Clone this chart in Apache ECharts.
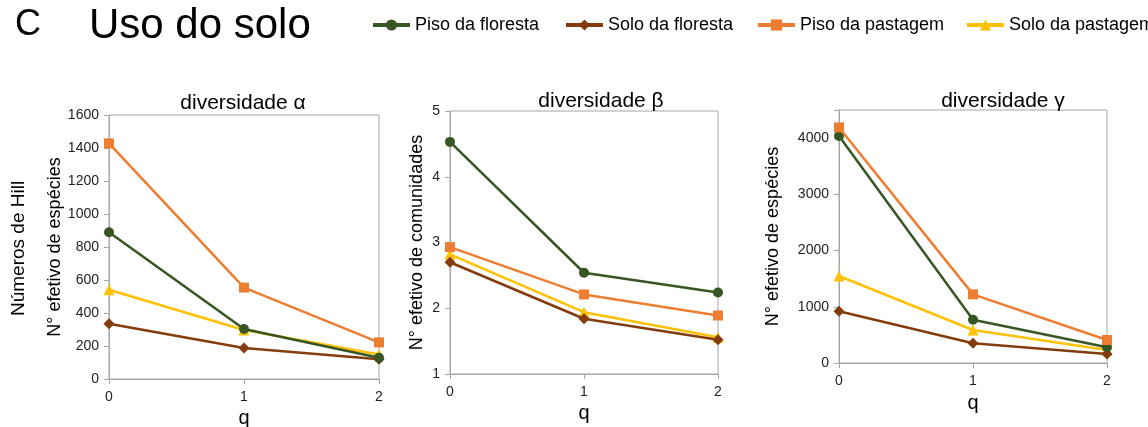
<!DOCTYPE html>
<html><head><meta charset="utf-8">
<script src="https://cdn.jsdelivr.net/npm/echarts@6/dist/echarts.min.js"></script>
<style>html,body{margin:0;padding:0;background:#fff}#c{width:1148px;height:427px}</style>
</head><body><div id="c"></div>
<script>
const qLabels = ['0', '1', '2'];
const seriesNames = ['Piso da floresta', 'Solo da floresta', 'Piso da pastagem', 'Solo da pastagem'];
const colors = ['#375623', '#843c0c', '#ed7d31', '#ffc000'];
const symbols = ['circle', 'diamond', 'rect', 'triangle'];
const panelTitles = ['diversidade α', 'diversidade β', 'diversidade γ'];

// diversidade α
const alphaPisoFloresta = [889, 303, 129];
const alphaSoloFloresta = [335, 188, 119];
const alphaPisoPastagem = [1428, 554, 222];
const alphaSoloPastagem = [541, 297, 149];
// diversidade β
const betaPisoFloresta = [4.53, 2.54, 2.24];
const betaSoloFloresta = [2.70, 1.84, 1.52];
const betaPisoPastagem = [2.93, 2.21, 1.89];
const betaSoloPastagem = [2.82, 1.94, 1.56];
// diversidade γ
const gammaPisoFloresta = [4036, 770, 279];
const gammaSoloFloresta = [919, 350, 160];
const gammaPisoPastagem = [4190, 1221, 409];
const gammaSoloPastagem = [1547, 587, 231];

const panelData = [
  [alphaPisoFloresta, alphaSoloFloresta, alphaPisoPastagem, alphaSoloPastagem],
  [betaPisoFloresta, betaSoloFloresta, betaPisoPastagem, betaSoloPastagem],
  [gammaPisoFloresta, gammaSoloFloresta, gammaPisoPastagem, gammaSoloPastagem]
];

const FONT = 'Liberation Sans, Arial, sans-serif';
const grids = [
  {left: 109, right: 769, top: 115, bottom: 48},
  {left: 450, right: 430, top: 111, bottom: 53},
  {left: 839, right: 41, top: 110, bottom: 64}
];
const yCfg = [
  {min: 0, max: 1600, interval: 200, name: 'N° efetivo de espécies', nameGap: 43},
  {min: 1, max: 5, interval: 1, name: 'N° efetivo de comunidades', nameGap: 24},
  {min: 0, max: 4500, interval: 1000, name: 'N° efetivo de espécies', nameGap: 57}
];
const xNameGap = [29, 19, 30];
const titlePos = [{x: 238, y: 88}, {x: 596, y: 86}, {x: 998, y: 86}];

const axisColor = '#a6a6a6';
const option = {
  animation: false,
  backgroundColor: '#fff',
  title: [
    {text: 'C', left: 10, top: 2, textStyle: {fontFamily: FONT, fontSize: 36, fontWeight: 'normal', color: '#000'}},
    {text: 'Uso do solo', left: 84, top: 0, textStyle: {fontFamily: FONT, fontSize: 42, fontWeight: 'normal', color: '#000'}}
  ].concat(panelTitles.map((t, i) => ({
    text: t, left: titlePos[i].x, top: titlePos[i].y, textAlign: 'center',
    textStyle: {fontFamily: FONT, fontSize: 21, fontWeight: 'normal', color: '#000'}
  }))),
  legend: seriesNames.map((n, i) => ({
    data: [n], left: [366, 559, 751, 960][i], top: 11,
    itemWidth: 37, itemHeight: 14, itemGap: 6,
    lineStyle: {width: 4},
    textStyle: {fontFamily: FONT, fontSize: 18, color: '#000'}
  })),
  grid: grids.map(g => Object.assign({show: true, borderColor: axisColor, borderWidth: 1,
    backgroundColor: 'transparent', outerBoundsMode: 'none', containLabel: false}, g)),
  xAxis: grids.map((g, i) => ({
    gridIndex: i, type: 'category', data: qLabels, boundaryGap: false,
    name: 'q', nameLocation: 'middle', nameGap: xNameGap[i],
    nameTextStyle: {fontFamily: FONT, fontSize: 20, color: '#000'},
    axisLine: {lineStyle: {color: axisColor, width: 1}},
    axisTick: {show: true, length: 5, lineStyle: {color: axisColor}},
    axisLabel: {fontFamily: FONT, fontSize: 14, color: '#222', margin: 11},
    splitLine: {show: false}
  })),
  yAxis: yCfg.map((c, i) => ({
    gridIndex: i, type: 'value', min: c.min, max: c.max, interval: c.interval,
    name: c.name, nameLocation: 'middle', nameGap: c.nameGap, nameRotate: 90,
    nameTextStyle: {fontFamily: FONT, fontSize: 18, color: '#000'},
    axisLine: {show: true, lineStyle: {color: axisColor, width: 1}},
    axisTick: {show: true, length: 5, lineStyle: {color: axisColor}},
    axisLabel: {fontFamily: FONT, fontSize: 14, color: '#222', margin: 10,
      formatter: v => (i === 2 && v === 4500) ? '' : String(v)},
    splitLine: {show: false}
  })),
  graphic: [{
    type: 'text', rotation: Math.PI / 2, x: 9, y: 316,
    style: {text: 'Números de Hill', font: '19px ' + FONT, fill: '#000'}
  }],
  series: []
};
panelData.forEach((arrs, p) => {
  arrs.forEach((vals, s) => {
    option.series.push({
      name: seriesNames[s], type: 'line', xAxisIndex: p, yAxisIndex: p,
      data: vals, symbol: symbols[s],
      symbolSize: [10, 11, 10, 11][s],
      itemStyle: {color: colors[s]},
      lineStyle: {color: colors[s], width: 2.5},
      z: [4, 3, 5, 2][s]
    });
  });
});
const chart = echarts.init(document.getElementById('c'), null, {renderer: 'canvas'});
chart.setOption(option);
</script></body></html>
